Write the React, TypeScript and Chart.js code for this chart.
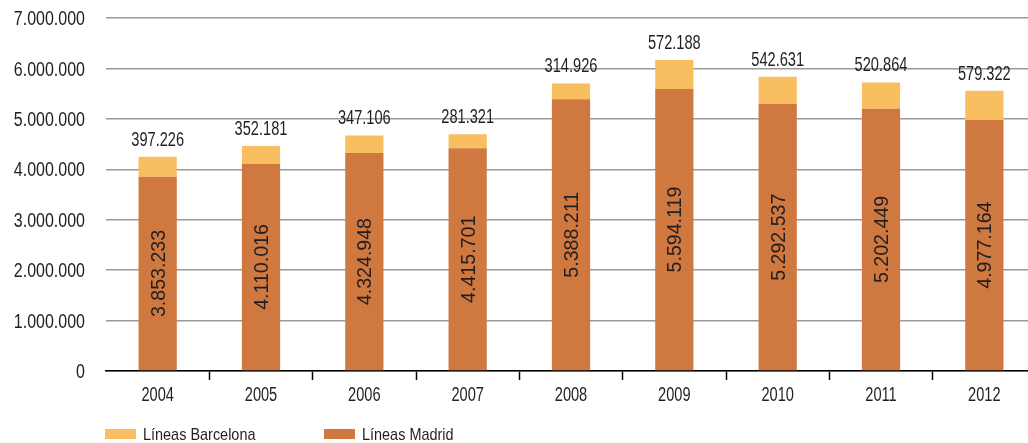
import React, { useEffect, useRef } from "react";
import { Chart, registerables } from "chart.js";

Chart.register(...registerables);

const years = ["2004", "2005", "2006", "2007", "2008", "2009", "2010", "2011", "2012"];
const madrid = [3853233, 4110016, 4324948, 4415701, 5388211, 5594119, 5292537, 5202449, 4977164];
const barcelona = [397226, 352181, 347106, 281321, 314926, 572188, 542631, 520864, 579322];
const seriesNames = ["Líneas Madrid", "Líneas Barcelona"];
const colors = ["#CF7941", "#F9BE5F"];
const yMax = 7000000;
const yStep = 1000000;

const FONT = "'Liberation Sans', Arial, sans-serif";
const TEXT = "#231F20";
const SIZE = 20;

const fmt = (n: number) => String(Math.round(n)).replace(/\B(?=(\d{3})+(?!\d))/g, ".");

function narrowText(ctx: any, text: string, x: number, y: number, align: string, k: number) {
  ctx.save();
  ctx.translate(x, y);
  ctx.scale(k, 1);
  ctx.textAlign = align;
  ctx.textBaseline = "alphabetic";
  ctx.fillText(text, 0, 0);
  ctx.restore();
}

const textPlugin = {
  id: "textPlugin",
  afterDatasetsDraw(chart: any) {
    const ctx = chart.ctx;
    ctx.save();
    ctx.fillStyle = TEXT;
    ctx.font = `${SIZE}px ${FONT}`;
    const capHalf = SIZE * 0.358;
    // Madrid values, rotated inside bars
    chart.getDatasetMeta(0).data.forEach((el: any, i: number) => {
      const p = el.getProps(["x", "y", "base"], true);
      ctx.save();
      ctx.translate(p.x + capHalf, (p.y + p.base) / 2);
      ctx.rotate(-Math.PI / 2);
      ctx.scale(0.98, 1);
      ctx.textAlign = "center";
      ctx.textBaseline = "alphabetic";
      ctx.fillText(fmt(madrid[i]), 0, 0);
      ctx.restore();
    });
    // Barcelona values above bars
    chart.getDatasetMeta(1).data.forEach((el: any, i: number) => {
      const p = el.getProps(["x", "y"], true);
      narrowText(ctx, fmt(barcelona[i]), p.x, p.y - 11, "center", 0.73);
    });
    // y tick labels
    const ys = chart.scales.y;
    ys.ticks.forEach((t: any, i: number) => {
      const py = ys.getPixelForTick(i);
      narrowText(ctx, fmt(t.value), ys.right - 21, py + capHalf, "right", 0.8);
    });
    // x tick labels
    const xs = chart.scales.x;
    xs.ticks.forEach((t: any, i: number) => {
      const px = xs.getPixelForTick(i);
      narrowText(ctx, String(chart.data.labels[i]), px, xs.top + 30, "center", 0.73);
    });
    ctx.restore();
  },
};

const legendPlugin = {
  id: "customLegend",
  afterDraw(chart: any) {
    const ctx = chart.ctx;
    ctx.save();
    ctx.font = `17px ${FONT}`;
    const items = [
      { ds: 1, x: 105 },
      { ds: 0, x: 324 },
    ];
    items.forEach((it) => {
      const ds = chart.data.datasets[it.ds];
      ctx.fillStyle = ds.backgroundColor;
      ctx.fillRect(it.x, 429, 31, 10);
      ctx.fillStyle = TEXT;
      narrowText(ctx, ds.label, it.x + 38, 439.5, "left", 0.85);
    });
    ctx.restore();
  },
};

export default function App() {
  const ref = useRef<HTMLCanvasElement | null>(null);
  useEffect(() => {
    if (!ref.current) return;
    const chart = new Chart(ref.current, {
      type: "bar",
      data: {
        labels: years,
        datasets: [
          { label: seriesNames[0], data: madrid, backgroundColor: colors[0], stack: "s" },
          { label: seriesNames[1], data: barcelona, backgroundColor: colors[1], stack: "s" },
        ],
      },
      options: {
        animation: false,
        responsive: true,
        maintainAspectRatio: false,
        layout: { padding: { top: 18, right: 0, bottom: 63, left: 0 } },
        plugins: { legend: { display: false }, tooltip: { enabled: false } },
        datasets: { bar: { barPercentage: 0.37, categoryPercentage: 1 } },
        scales: {
          x: {
            stacked: true,
            grid: {
              offset: true,
              drawOnChartArea: false,
              drawTicks: true,
              tickLength: 9,
              tickColor: (c: any) => (c.index === 0 ? "rgba(0,0,0,0)" : "#000"),
              tickWidth: 1.5,
            },
            border: { display: true, color: "#000", width: 1.5 },
            ticks: { display: false },
          },
          y: {
            stacked: true,
            min: 0,
            max: yMax,
            afterFit: (s: any) => {
              s.width = 106;
            },
            grid: { color: "#9A9A9A", lineWidth: 1.5, drawTicks: false },
            border: { display: false },
            ticks: { display: false, stepSize: yStep },
          },
        },
      },
      plugins: [textPlugin, legendPlugin],
    });
    return () => chart.destroy();
  }, []);
  return (
    <div style={{ position: "absolute", left: 0, top: 0, width: 1028, height: 443, overflow: "hidden" }}>
      <div style={{ position: "relative", width: 1036, height: 443 }}>
        <canvas ref={ref} />
      </div>
    </div>
  );
}
